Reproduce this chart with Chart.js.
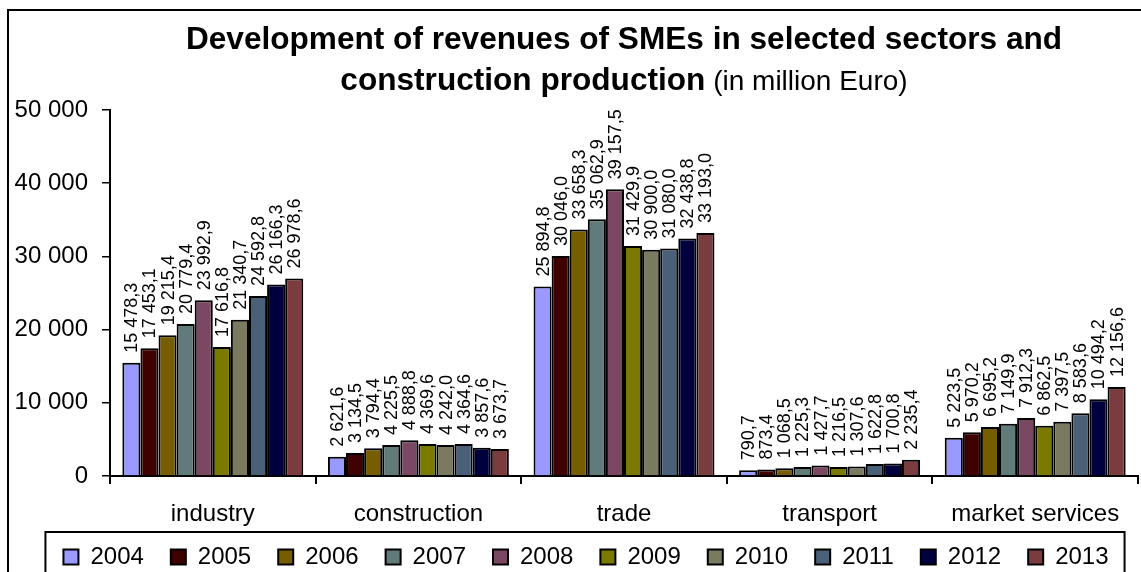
<!DOCTYPE html>
<html lang="en">
<head>
    <meta charset="UTF-8">
    <title>Revenues of SMEs</title>
    <style>
        html, body { margin: 0; padding: 0; overflow: hidden; background: #fff; }
        #chart-container { width: 1141px; height: 600px; }
    </style>
</head>
<body>
    <div id="chart-container">
        <canvas id="myChart" width="1141" height="600"></canvas>
    </div>

    <script src="https://cdn.jsdelivr.net/npm/chart.js"></script>
    <script>
        // Categories and years
        var sectors = ["industry", "construction", "trade", "transport", "market services"];
        var years = ["2004", "2005", "2006", "2007", "2008", "2009", "2010", "2011", "2012", "2013"];

        // Revenues per sector, one value per year (million Euro)
        var industry = [15478.3, 17453.1, 19215.4, 20779.4, 23992.9, 17616.8, 21340.7, 24592.8, 26166.3, 26978.6];
        var construction = [2621.6, 3134.5, 3794.4, 4225.5, 4888.8, 4369.6, 4242.0, 4364.6, 3857.6, 3673.7];
        var trade = [25894.8, 30046.0, 33658.3, 35062.9, 39157.5, 31429.9, 30900.0, 31080.0, 32438.8, 33193.0];
        var transport = [790.7, 873.4, 1068.5, 1225.3, 1427.7, 1216.5, 1307.6, 1622.8, 1700.8, 2235.4];
        var marketServices = [5223.5, 5970.2, 6695.2, 7149.9, 7912.3, 6862.5, 7397.5, 8583.6, 10494.2, 12156.6];

        // Y axis ticks
        var yTicks = [0, 10000, 20000, 30000, 40000, 50000];

        var colors = ["#9999FF", "#3F0000", "#765D00", "#617A7A", "#7A4862",
                      "#7A7A00", "#797A5F", "#4A6079", "#00003F", "#7A3C3E"];

        var FONT = "'Liberation Sans', Arial, sans-serif";
        var bySector = [industry, construction, trade, transport, marketServices];

        // space as thousands separator
        function fmtInt(v) {
            return String(Math.round(v)).replace(/\B(?=(\d{3})+(?!\d))/g, " ");
        }
        function fmtDec(v) {
            var parts = v.toFixed(1).split(".");
            return parts[0].replace(/\B(?=(\d{3})+(?!\d))/g, " ") + "," + parts[1];
        }

        var datasets = years.map(function (y, i) {
            return {
                label: y,
                data: bySector.map(function (s) { return s[i]; }),
                backgroundColor: colors[i],
                borderColor: "#000",
                borderWidth: 2,
                categoryPercentage: 0.88,
                barPercentage: 1.0
            };
        });

        // background, frame, title and legend box
        var decorPlugin = {
            id: 'decor',
            afterLayout: function (chart) {
                // tick labels overflow their scale boxes a bit, don't clip them
                Object.keys(chart.scales).forEach(function (k) {
                    chart.scales[k]._computeLabelArea = function () { return undefined; };
                });
            },
            beforeDraw: function (chart) {
                var c = chart.ctx;
                c.save();
                c.fillStyle = "#fff";
                c.fillRect(0, 0, chart.width, chart.height);
                c.strokeStyle = "#000";
                c.lineWidth = 2;
                c.strokeRect(8, 10, chart.width + 20, chart.height + 20);

                // title, two lines, second line mixes bold and normal
                var cx = 624;
                c.fillStyle = "#000";
                c.textBaseline = "alphabetic";
                c.textAlign = "left";
                c.font = "bold 31.6px " + FONT;
                var l1 = "Development of revenues of SMEs in selected sectors and";
                var w1 = c.measureText(l1).width;
                c.fillText(l1, cx - w1 / 2, 49);
                var b2 = "construction production";
                var n2 = " (in million Euro)";
                var wb = c.measureText(b2).width;
                c.font = "28px " + FONT;
                var wn = c.measureText(n2).width;
                var x2 = cx - (wb + wn) / 2;
                c.font = "bold 31.6px " + FONT;
                c.fillText(b2, x2, 90);
                c.font = "28px " + FONT;
                c.fillText(n2, x2 + wb, 90);
                c.restore();
            },
            afterDraw: function (chart) {
                var lg = chart.legend;
                if (!lg || !lg.legendHitBoxes.length) return;
                var hb = lg.legendHitBoxes;
                var left = hb[0].left - 18;
                var last = hb[hb.length - 1];
                var right = last.left + last.width + 16;
                var top = hb[0].top + hb[0].height / 2 - 25;
                var c = chart.ctx;
                c.save();
                c.strokeStyle = "#000";
                c.lineWidth = 2;
                c.strokeRect(left, top, right - left, chart.height);
                c.restore();
            }
        };

        // rotated value labels above the bars
        var valueLabels = {
            id: 'valueLabels',
            afterDatasetsDraw: function (chart) {
                var c = chart.ctx;
                c.save();
                c.fillStyle = "#000";
                c.font = "18px " + FONT;
                c.textAlign = "left";
                c.textBaseline = "middle";
                chart.data.datasets.forEach(function (ds, i) {
                    var meta = chart.getDatasetMeta(i);
                    meta.data.forEach(function (bar, j) {
                        c.save();
                        c.translate(bar.x, bar.y - 10);
                        c.rotate(-Math.PI / 2);
                        c.fillText(fmtDec(ds.data[j]), 0, 1);
                        c.restore();
                    });
                });
                c.restore();
            }
        };

        var ctx = document.getElementById('myChart').getContext('2d');
        var myChart = new Chart(ctx, {
            type: 'bar',
            data: { labels: sectors, datasets: datasets },
            plugins: [decorPlugin, valueLabels],
            options: {
                responsive: false,
                animation: false,
                layout: { padding: { top: 110, left: 34, right: 3, bottom: 21 } },
                scales: {
                    y: {
                        min: 0,
                        max: 50000,
                        afterFit: function (s) { s.width = 76; },
                        afterBuildTicks: function (s) {
                            s.ticks = yTicks.map(function (v) { return { value: v }; });
                        },
                        ticks: {
                            color: "#000",
                            font: { family: FONT, size: 24 },
                            padding: 14,
                            callback: function (v) { return fmtInt(v); }
                        },
                        grid: {
                            drawOnChartArea: false,
                            drawTicks: true,
                            tickLength: 8,
                            color: "#000",
                            lineWidth: 1.5
                        },
                        border: { display: true, color: "#000", width: 2 }
                    },
                    x: {
                        afterFit: function (s) { s.height = 42; },
                        ticks: {
                            color: "#000",
                            font: { family: FONT, size: 24 },
                            padding: 16
                        },
                        grid: {
                            offset: true,
                            drawOnChartArea: false,
                            drawTicks: true,
                            tickLength: 8,
                            color: "#000",
                            lineWidth: 2
                        },
                        border: { display: true, color: "#000", width: 2 }
                    }
                },
                plugins: {
                    title: { display: false },
                    tooltip: { enabled: false },
                    legend: {
                        position: 'bottom',
                        labels: {
                            color: "#000",
                            font: { family: FONT, size: 24 },
                            boxWidth: 15,
                            boxHeight: 15,
                            padding: 27
                        }
                    }
                }
            }
        });
    </script>
</body>
</html>
